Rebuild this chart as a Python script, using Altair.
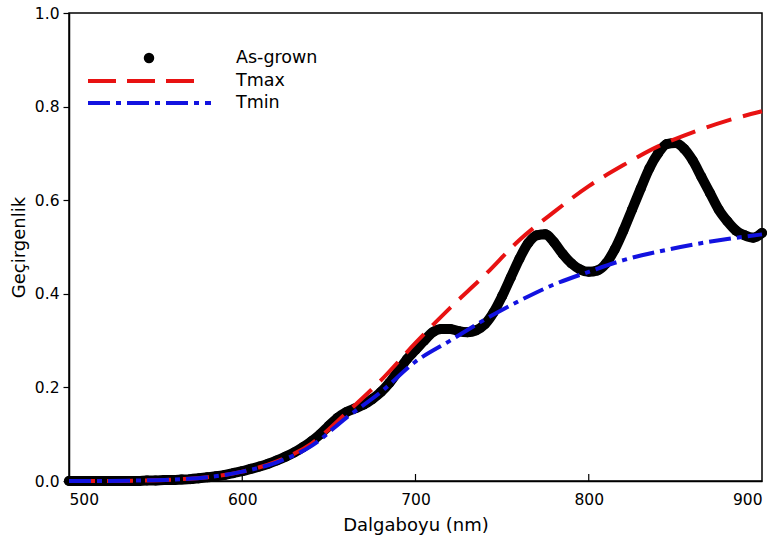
import altair as alt
import pandas as pd

# ---------------- data ----------------
wl_as = list(range(500, 901, 5))
t_as = [0.0, 0.0, 0.0, 0.0, 0.0, 0.0, 0.0, 0.0, 0.0, 0.001,
        0.001, 0.002, 0.002, 0.003, 0.004, 0.006, 0.008, 0.010, 0.013, 0.017,
        0.021, 0.026, 0.031, 0.037, 0.044, 0.052, 0.061, 0.072, 0.085, 0.100,
        0.118, 0.135, 0.147, 0.155, 0.163, 0.175, 0.190, 0.210, 0.235, 0.260,
        0.280, 0.300, 0.318, 0.325, 0.325, 0.320, 0.318, 0.322, 0.335, 0.360,
        0.395, 0.435, 0.475, 0.508, 0.525, 0.527, 0.510, 0.485, 0.465, 0.452,
        0.447, 0.450, 0.465, 0.495, 0.535, 0.580, 0.625, 0.668, 0.700, 0.720,
        0.722, 0.710, 0.685, 0.650, 0.615, 0.580, 0.555, 0.535, 0.525, 0.520,
        0.530]

wl_env = list(range(500, 901, 20))
tmax = [0.0, 0.0, 0.001, 0.003, 0.008, 0.020, 0.042, 0.080, 0.145, 0.215,
        0.295, 0.370, 0.440, 0.515, 0.575, 0.630, 0.675, 0.715, 0.745, 0.770,
        0.790]
tmin = [0.0, 0.0, 0.001, 0.003, 0.008, 0.020, 0.040, 0.075, 0.135, 0.190,
        0.255, 0.300, 0.345, 0.385, 0.420, 0.447, 0.472, 0.490, 0.505, 0.517,
        0.527]

legend_labels = ["As-grown", "Tmax", "Tmin"]
x_ticks = [500, 600, 700, 800, 900]
y_ticks = [0.0, 0.2, 0.4, 0.6, 0.8, 1.0]

RED = "#e81212"
BLUE = "#1212e0"
FONT = "DejaVu Sans"

df_as = pd.DataFrame({"wl": wl_as, "T": t_as})
df_env = pd.DataFrame({"wl": wl_env, "Tmax": tmax, "Tmin": tmin})

W, H = 693, 468

xs = alt.Scale(domain=[500, 900], nice=False, zero=False)
ys = alt.Scale(domain=[0, 1], nice=False)

xenc = alt.X("wl:Q", scale=xs,
             axis=alt.Axis(values=x_ticks, format="d", title="Dalgaboyu (nm)",
                           ticks=False, labelPadding=11, grid=False,
                           titlePadding=9))
yenc = alt.Y("T:Q", scale=ys,
             axis=alt.Axis(values=y_ticks, format=".1f", title="Geçirgenlik",
                           tickSize=6, labelPadding=4, grid=False,
                           titlePadding=6))

band = alt.Chart(df_as).mark_line(color="black", strokeWidth=10,
                                  strokeCap="round", strokeJoin="round",
                                  interpolate="monotone").encode(x=xenc, y=yenc)
dots = alt.Chart(df_as).mark_circle(color="black", opacity=1, size=100).encode(
    x="wl:Q", y="T:Q")

tmax_line = alt.Chart(df_env).mark_line(color=RED, strokeWidth=4,
                                        strokeDash=[26, 12],
                                        interpolate="monotone").encode(
    x="wl:Q", y="Tmax:Q")
tmin_line = alt.Chart(df_env).mark_line(color=BLUE, strokeWidth=4,
                                        strokeDash=[22, 6, 5, 6],
                                        interpolate="monotone").encode(
    x="wl:Q", y="Tmin:Q")

# inward ticks on the bottom axis
df_xt = pd.DataFrame({"wl": x_ticks[1:-1]})
xticks = alt.Chart(df_xt).mark_rule(color="black", strokeWidth=1.2).encode(
    x="wl:Q", y=alt.value(H), y2=alt.value(H - 7))

# legend
leg_df = pd.DataFrame({"label": legend_labels, "ly": [45, 68, 90]})
leg_text = alt.Chart(leg_df).mark_text(align="left", baseline="middle",
                                       font=FONT, fontSize=17.5,
                                       color="black").encode(
    x=alt.value(167), y=alt.Y("ly:Q", scale=None), text="label:N")
leg_dot = alt.Chart(leg_df.iloc[[0]]).mark_circle(color="black", opacity=1,
                                                  size=110).encode(
    x=alt.value(80), y=alt.Y("ly:Q", scale=None))
leg_max = alt.Chart(leg_df.iloc[[1]]).mark_rule(color=RED, strokeWidth=4,
                                                strokeDash=[28, 11]).encode(
    x=alt.value(19), x2=alt.value(127), y=alt.Y("ly:Q", scale=None))
leg_min = alt.Chart(leg_df.iloc[[2]]).mark_rule(color=BLUE, strokeWidth=4,
                                                strokeDash=[22, 6, 5, 6]).encode(
    x=alt.value(19), x2=alt.value(142), y=alt.Y("ly:Q", scale=None))

chart = alt.layer(band, dots, tmax_line, tmin_line, xticks,
                  leg_dot, leg_max, leg_min, leg_text).properties(
    width=W, height=H,
    autosize=alt.AutoSizeParams(type="none"),
    padding={"left": 69, "top": 13, "right": 14, "bottom": 60},
    background="white",
).configure_view(stroke="black", strokeWidth=1.5).configure_axis(
    domainColor="black", domainWidth=1.5, tickColor="black", tickWidth=1.2,
    labelFont=FONT, labelFontSize=15.5, labelColor="black",
    titleFont=FONT, titleFontSize=18, titleFontWeight="normal",
    titleColor="black")

chart.save("out.html", embed_options={"renderer": "svg", "actions": False})
